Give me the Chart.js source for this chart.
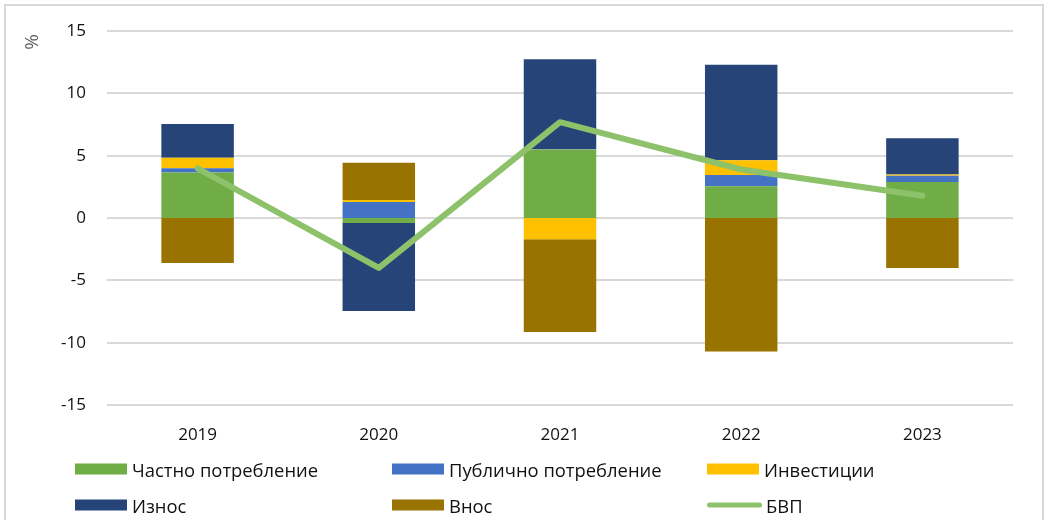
<!DOCTYPE html>
<html>
<head>
<meta charset="utf-8">
<script src="https://cdn.jsdelivr.net/npm/chart.js@4.4.1/dist/chart.umd.min.js"></script>
<style>
  html, body { margin: 0; padding: 0; background: #fff; }
  #wrap { position: relative; width: 1045px; height: 520px; overflow: hidden; font-family: "Open Sans", sans-serif; }
  #frame { position: absolute; left: 4px; top: 4px; width: 1040px; height: 600px; border: 2px solid #d9d9d9; box-sizing: border-box; }
  #c { position: absolute; left: 0; top: 0; }
  .lg { position: absolute; display: flex; align-items: center; font-size: 18.4px; color: #111; white-space: nowrap; transform: translateY(-50%); }
  .lg .sw { width: 52px; height: 11px; margin-right: 5px; }
  .lg .ln { width: 55px; height: 5px; border-radius: 3px; margin-right: 4px; }
</style>
</head>
<body>
<div id="wrap">
  <div id="frame"></div>
  <canvas id="c" width="1045" height="520"></canvas>
  <div id="legend"></div>
</div>
<script>
const years = ['2019', '2020', '2021', '2022', '2023'];
const privateCons = [3.65, -0.4, 5.5, 2.55, 2.9];
const publicCons = [0.35, 1.3, 0.05, 0.9, 0.5];
const investments = [0.85, 0.15, -1.7, 1.2, 0.1];
const exportsV = [2.7, -7.05, 7.2, 7.65, 2.9];
const importsV = [-3.6, 3.0, -7.45, -10.7, -4.0];
const gdp = [4.0, -4.0, 7.7, 3.9, 1.8];
const yTicks = [-15, -10, -5, 0, 5, 10, 15];

const names = ['Частно потребление', 'Публично потребление', 'Инвестиции', 'Износ', 'Внос', 'БВП'];
const colors = ['#70ad47', '#4472c4', '#ffc000', '#264478', '#997300', '#8dc26a'];
const gridColor = '#d9d9d9';

const barSeries = [privateCons, publicCons, investments, exportsV, importsV];
const datasets = barSeries.map((d, i) => ({
  type: 'bar',
  label: names[i],
  data: d,
  backgroundColor: colors[i],
  borderWidth: 0,
  stack: 'gdpParts',
  order: 1,
  categoryPercentage: 1,
  barPercentage: 0.4
}));
datasets.push({
  type: 'line',
  label: names[5],
  data: gdp,
  borderColor: colors[5],
  backgroundColor: colors[5],
  borderWidth: 6,
  pointRadius: 0,
  tension: 0,
  borderCapStyle: 'round',
  borderJoinStyle: 'round',
  stack: 'gdpLine',
  order: 0
});

// zero gridline drawn under the bars (so bars cover it, as in the original)
const zeroLine = {
  id: 'zeroLine',
  beforeDatasetsDraw(chart) {
    const { ctx, chartArea, scales } = chart;
    const y = Math.round(scales.y.getPixelForValue(0));
    ctx.save();
    ctx.strokeStyle = gridColor;
    ctx.lineWidth = 2;
    ctx.beginPath();
    ctx.moveTo(chartArea.left, y);
    ctx.lineTo(chartArea.right, y);
    ctx.stroke();
    ctx.restore();
  }
};

const percentLabel = {
  id: 'percentLabel',
  afterDraw(chart) {
    const ctx = chart.ctx;
    ctx.save();
    ctx.translate(33, 42);
    ctx.rotate(-Math.PI / 2);
    ctx.font = '19px "Open Sans"';
    ctx.fillStyle = '#595959';
    ctx.textAlign = 'center';
    ctx.textBaseline = 'middle';
    ctx.fillText('%', 0, 0);
    ctx.restore();
  }
};

new Chart(document.getElementById('c'), {
  data: { labels: years, datasets },
  options: {
    responsive: false,
    animation: false,
    devicePixelRatio: 1,
    layout: { padding: { left: 0, right: 32, top: 31, bottom: 75 } },
    plugins: { legend: { display: false }, tooltip: { enabled: false } },
    scales: {
      x: {
        stacked: true,
        grid: { display: false, drawTicks: false },
        border: { display: false },
        ticks: { padding: 20, color: '#111', font: { family: 'Open Sans', size: 17 } },
        afterFit(s) { s.height = 40; }
      },
      y: {
        stacked: true,
        min: -15, max: 15,
        afterBuildTicks(s) { s.ticks = yTicks.map(v => ({ value: v })); },
        grid: {
          color: gridColor,
          lineWidth: (c) => (c.tick && c.tick.value === 0 ? 0 : 2),
          drawTicks: false
        },
        border: { display: false },
        ticks: { padding: 21, color: '#111', font: { family: 'Open Sans', size: 17 } },
        afterFit(s) { s.width = 107; }
      }
    }
  },
  plugins: [zeroLine, percentLabel]
});

// HTML legend built from the dataset list (3 columns x 2 rows)
const colX = [75, 392, 707];
const rowY = [468.5, 505];
const lg = document.getElementById('legend');
names.forEach((n, i) => {
  const item = document.createElement('div');
  item.className = 'lg';
  item.style.left = colX[i % 3] + 'px';
  item.style.top = rowY[Math.floor(i / 3)] + 'px';
  const sw = document.createElement('span');
  sw.className = i === 5 ? 'ln' : 'sw';
  sw.style.background = colors[i];
  const t = document.createElement('span');
  t.textContent = n;
  item.appendChild(sw);
  item.appendChild(t);
  lg.appendChild(item);
});
</script>
</body>
</html>
